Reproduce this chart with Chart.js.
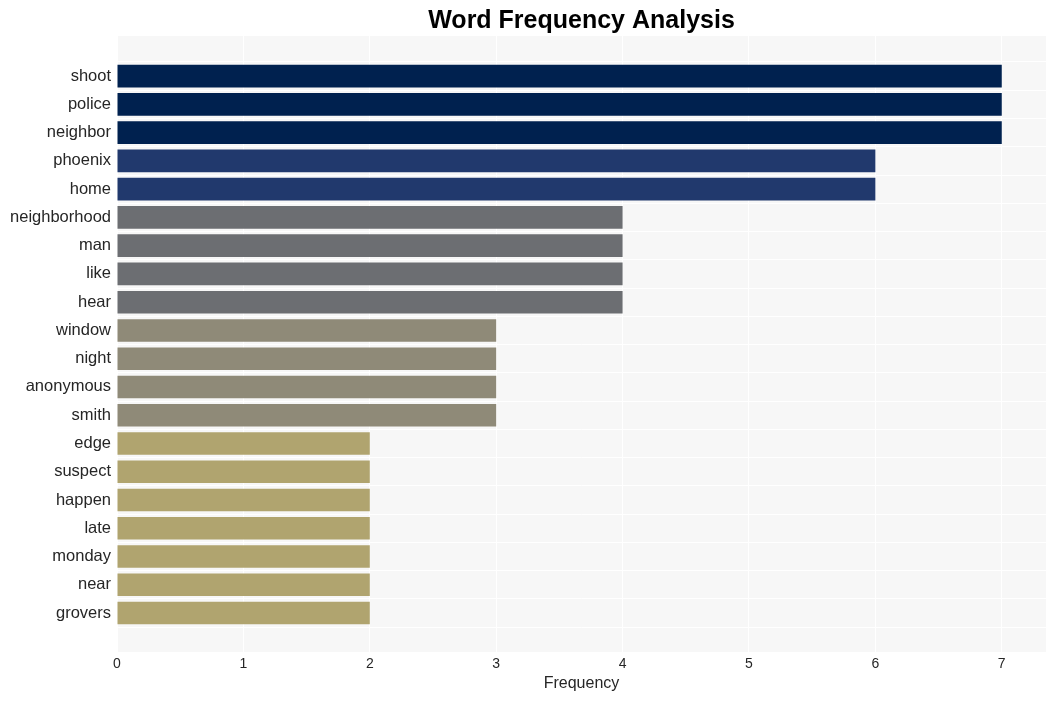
<!DOCTYPE html>
<html>
<head>
<meta charset="utf-8">
<script src="https://cdn.jsdelivr.net/npm/chart.js@4"></script>
<style>
  html, body { margin: 0; padding: 0; background: #ffffff; }
  #wrap { width: 1056px; height: 701px; }
</style>
</head>
<body>
<div id="wrap"><canvas id="chart" width="1056" height="701"></canvas></div>
<script>
// Chart data
const words = ['shoot', 'police', 'neighbor', 'phoenix', 'home', 'neighborhood', 'man', 'like', 'hear',
    'window', 'night', 'anonymous', 'smith', 'edge', 'suspect', 'happen', 'late', 'monday', 'near', 'grovers'];
const counts = [7, 7, 7, 6, 6, 4, 4, 4, 4, 3, 3, 3, 3, 2, 2, 2, 2, 2, 2, 2];
const xTicks = [0, 1, 2, 3, 4, 5, 6, 7];
const chartTitle = 'Word Frequency Analysis';

// Colour for a bar based on its count
function getBarColor(value) {
    const palette = { 7: '#00214f', 6: '#21396d', 4: '#6c6e72', 3: '#8f8a78', 2: '#b0a46f' };
    return palette[value] || '#b0a46f';
}

const fontFamily = '"Liberation Sans", Arial, Helvetica, sans-serif';

// Light gray background behind the plot area
const plotBackground = {
    id: 'plotBackground',
    beforeDraw(chart) {
        const { ctx, chartArea } = chart;
        ctx.save();
        ctx.fillStyle = '#f7f7f7';
        ctx.fillRect(chartArea.left, chartArea.top, chartArea.right - chartArea.left, chartArea.bottom - chartArea.top);
        ctx.restore();
    }
};

// Title centred over the plot area rather than the whole canvas
const plotTitle = {
    id: 'plotTitle',
    afterDraw(chart) {
        const { ctx, chartArea } = chart;
        ctx.save();
        ctx.fillStyle = '#000000';
        ctx.font = 'bold 25px ' + fontFamily;
        ctx.textAlign = 'center';
        ctx.textBaseline = 'middle';
        ctx.fillText(chartTitle, (chartArea.left + chartArea.right) / 2, 21);
        ctx.restore();
    }
};

const ctx = document.getElementById('chart').getContext('2d');
const chart = new Chart(ctx, {
    type: 'bar',
    data: {
        datasets: [{
            data: counts.map((c, i) => ({ x: c, y: i })),
            backgroundColor: counts.map(getBarColor),
            borderWidth: 0,
            barPercentage: 0.8,
            categoryPercentage: 1.0
        }]
    },
    options: {
        indexAxis: 'y',
        responsive: false,
        animation: false,
        layout: { padding: { left: 0, right: 10, top: 36, bottom: 0 } },
        plugins: {
            legend: { display: false },
            tooltip: { enabled: false },
            title: { display: false }
        },
        scales: {
            x: {
                type: 'linear',
                min: 0,
                max: 7.35,
                afterBuildTicks: axis => { axis.ticks = xTicks.map(v => ({ value: v })); },
                afterFit: axis => { axis.height = 49; },
                grid: { color: '#ffffff', lineWidth: 1, drawTicks: false },
                border: { display: false },
                ticks: {
                    color: '#262626',
                    padding: 4,
                    font: { family: fontFamily, size: 14 }
                },
                title: {
                    display: true,
                    text: 'Frequency',
                    color: '#262626',
                    font: { family: fontFamily, size: 16 },
                    padding: { top: 4, bottom: 8 }
                }
            },
            y: {
                type: 'linear',
                reverse: true,
                offset: false,
                min: -1.42,
                max: 20.38,
                afterBuildTicks: axis => { axis.ticks = words.map((w, i) => ({ value: i })); },
                afterFit: axis => { axis.width = 117; },
                grid: { color: '#ffffff', lineWidth: 1, drawTicks: false },
                border: { display: false },
                ticks: {
                    color: '#262626',
                    padding: 6,
                    autoSkip: false,
                    font: { family: fontFamily, size: 16.5 },
                    callback: value => words[value] || ''
                }
            }
        }
    },
    plugins: [plotBackground, plotTitle]
});
</script>
</body>
</html>
